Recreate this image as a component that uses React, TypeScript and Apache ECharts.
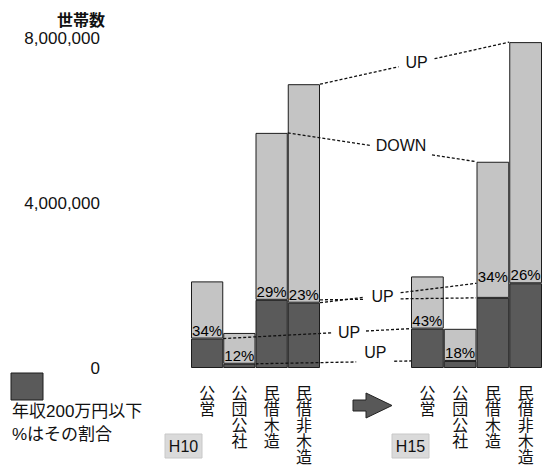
import React, { useEffect, useRef } from "react";
import * as echarts from "echarts";

// Households by tenure type, two survey years
const categories = ["公営", "公団公社", "民借木造", "民借非木造"];
const periods = ["H10", "H15"];
const householdsH10 = [2100000, 850000, 5700000, 6880000];
const householdsH15 = [2220000, 950000, 5000000, 7900000];
// share (%) of households with annual income of 2 million yen or less
const lowIncomePctH10 = [34, 12, 29, 23];
const lowIncomePctH15 = [43, 18, 34, 26];
const yTicks = [0, 4000000, 8000000];

const LIGHT = "#c4c4c4";
const DARK = "#5a5a5a";
const EDGE = "#1c1c1c";
const LATIN = "'Liberation Sans', Arial, sans-serif";
const CJK = "'Liberation Sans', 'Noto Sans CJK JP', sans-serif";

type Part = "total" | "low";
type Anchor = { g: number; edgeCat: number; side: -1 | 1; valueCat: number; part: Part };
type Connector = { lines: [Anchor, Anchor][]; text: string; t: number; dy: number; halfGap: number };

// change arrows between the two survey years
const connectors: Connector[] = [
  {
    lines: [[{ g: 0, edgeCat: 3, side: 1, valueCat: 3, part: "total" }, { g: 1, edgeCat: 3, side: -1, valueCat: 3, part: "total" }]],
    text: "UP", t: 0.51, dy: 0, halfGap: 18,
  },
  {
    lines: [[{ g: 0, edgeCat: 2, side: 1, valueCat: 2, part: "total" }, { g: 1, edgeCat: 2, side: -1, valueCat: 2, part: "total" }]],
    text: "DOWN", t: 0.6, dy: -5, halfGap: 31,
  },
  {
    lines: [
      [{ g: 0, edgeCat: 3, side: 1, valueCat: 2, part: "low" }, { g: 1, edgeCat: 2, side: -1, valueCat: 2, part: "low" }],
      [{ g: 0, edgeCat: 3, side: 1, valueCat: 3, part: "low" }, { g: 1, edgeCat: 2, side: -1, valueCat: 3, part: "low" }],
    ],
    text: "UP", t: 0.4, dy: 0, halfGap: 18,
  },
  {
    lines: [[{ g: 0, edgeCat: 0, side: 1, valueCat: 0, part: "low" }, { g: 1, edgeCat: 0, side: -1, valueCat: 0, part: "low" }]],
    text: "UP", t: 0.67, dy: 1, halfGap: 17,
  },
  {
    lines: [[{ g: 0, edgeCat: 1, side: 1, valueCat: 1, part: "low" }, { g: 1, edgeCat: 0, side: -1, valueCat: 1, part: "low" }]],
    text: "UP", t: 0.77, dy: -9, halfGap: 19,
  },
];

const groups = [
  { totals: householdsH10, pct: lowIncomePctH10 },
  { totals: householdsH15, pct: lowIncomePctH15 },
];

const lowOf = (g: number, i: number) => Math.round((groups[g].totals[i] * groups[g].pct[i]) / 100);
const valueOf = (g: number, i: number, part: Part) => (part === "total" ? groups[g].totals[i] : lowOf(g, i));

// label lift for the one label that sits level with its neighbour
const LABEL_NUDGE: Record<string, number> = { "1-2": -13 };

function buildOption(): echarts.EChartsCoreOption {
  const grids = [
    { left: 191, top: 38, width: 129, height: 330 },
    { left: 411, top: 38, width: 131, height: 330 },
  ];
  const series: any[] = [];
  groups.forEach((grp, g) => {
    const low = grp.totals.map((_, i) => lowOf(g, i));
    const rest = grp.totals.map((t, i) => t - low[i]);
    series.push({
      type: "bar",
      name: periods[g] + " low",
      xAxisIndex: g,
      yAxisIndex: g,
      stack: "s" + g,
      barWidth: "100%",
      itemStyle: { color: DARK, borderColor: EDGE, borderWidth: 1 },
      label: {
        show: true,
        position: "top",
        distance: 1,
        fontSize: 15,
        fontFamily: LATIN,
        color: "#000",
        formatter: (p: any) => grp.pct[p.dataIndex] + "%",
      },
      data: low.map((v, i) => ({
        value: v,
        label: { offset: [0, LABEL_NUDGE[`${g}-${i}`] ?? 0] },
      })),
    });
    series.push({
      type: "bar",
      name: periods[g] + " rest",
      xAxisIndex: g,
      yAxisIndex: g,
      stack: "s" + g,
      barWidth: "100%",
      itemStyle: { color: LIGHT, borderColor: EDGE, borderWidth: 1 },
      data: rest,
    });
  });

  return {
    animation: false,
    backgroundColor: "#ffffff",
    title: {
      text: "世帯数",
      left: 52,
      top: 7,
      textStyle: { fontSize: 16, fontWeight: "bold", fontFamily: CJK, color: "#111" },
    },
    grid: grids,
    xAxis: grids.map((_, g) => ({
      type: "category",
      gridIndex: g,
      data: categories,
      axisLine: { show: false },
      axisTick: { show: false },
      axisLabel: {
        interval: 0,
        margin: 17,
        fontSize: 16,
        lineHeight: 16,
        fontFamily: CJK,
        color: "#111",
        formatter: (v: string) => v.split("").join("\n"),
      },
    })),
    yAxis: grids.map((_, g) => ({
      type: "value",
      gridIndex: g,
      min: yTicks[0],
      max: yTicks[yTicks.length - 1],
      interval: yTicks[1] - yTicks[0],
      show: g === 0,
      axisLine: { show: false },
      axisTick: { show: false },
      splitLine: { show: false },
      axisLabel: {
        margin: 91,
        fontSize: 17,
        fontFamily: LATIN,
        color: "#111",
        formatter: (v: number) => v.toLocaleString("en-US"),
      },
    })),
    series,
  };
}

function decorations(): any[] {
  const out: any[] = [];
  // legend swatch
  out.push({
    type: "rect",
    shape: { x: 11, y: 373, width: 32, height: 27 },
    style: { fill: DARK, stroke: EDGE, lineWidth: 1 },
  });
  out.push({
    type: "text",
    x: 12,
    y: 411,
    style: { text: "年収200万円以下", fontSize: 17, fontFamily: CJK, fill: "#111", verticalAlign: "middle" },
  });
  out.push({
    type: "text",
    x: 12,
    y: 434,
    style: { text: "%はその割合", fontSize: 17, fontFamily: CJK, fill: "#111", verticalAlign: "middle" },
  });
  // period tags
  const tags = [
    { text: periods[0], x: 165, y: 434 },
    { text: periods[1], x: 392, y: 434 },
  ];
  tags.forEach((tg) => {
    out.push({
      type: "rect",
      shape: { x: tg.x, y: tg.y, width: 37, height: 24 },
      style: { fill: "#dadada", stroke: "#c8c8c8", lineWidth: 1 },
    });
    out.push({
      type: "text",
      x: tg.x + 18.5,
      y: tg.y + 12.5,
      style: { text: tg.text, fontSize: 16, fontFamily: LATIN, fill: "#111", align: "center", verticalAlign: "middle" },
    });
  });
  // arrow between the periods
  out.push({
    type: "polygon",
    shape: {
      points: [
        [353, 400], [366, 400], [366, 393], [392, 405.5], [366, 418], [366, 411], [353, 411],
      ],
    },
    style: { fill: "#585858", stroke: "#222", lineWidth: 1 },
  });
  return out;
}

function connectorGraphics(chart: echarts.ECharts): any[] {
  const out: any[] = [];
  const px = (g: number, cat: number, v: number) =>
    chart.convertToPixel({ gridIndex: g } as any, [cat, v]) as number[];
  const anchorPx = (a: Anchor) => {
    const half = (px(a.g, 1, 0)[0] - px(a.g, 0, 0)[0]) / 2;
    const cx = px(a.g, a.edgeCat, 0)[0];
    const y = px(a.g, a.valueCat, valueOf(a.g, a.valueCat, a.part))[1];
    return [cx + a.side * half, y];
  };
  const dashStyle = { stroke: "#111", lineWidth: 1.3, lineDash: [3, 2] };
  connectors.forEach((c) => {
    let tx = 0;
    let ty = 0;
    c.lines.forEach(([a, b]) => {
      const p0 = anchorPx(a);
      const p1 = anchorPx(b);
      const dx = p1[0] - p0[0];
      const dyL = p1[1] - p0[1];
      const len = Math.hypot(dx, dyL);
      const ux = dx / len;
      const uy = dyL / len;
      const mx = p0[0] + dx * c.t;
      const my = p0[1] + dyL * c.t;
      const gapScale = 1 / Math.max(Math.abs(ux), 0.2);
      const gx = ux * c.halfGap * gapScale;
      const gy = uy * c.halfGap * gapScale;
      out.push({ type: "line", z: 50, shape: { x1: p0[0], y1: p0[1], x2: mx - gx, y2: my - gy }, style: dashStyle });
      out.push({ type: "line", z: 50, shape: { x1: mx + gx, y1: my + gy, x2: p1[0], y2: p1[1] }, style: dashStyle });
      tx += mx / c.lines.length;
      ty += my / c.lines.length;
    });
    out.push({
      type: "text",
      z: 51,
      x: tx,
      y: ty + c.dy,
      style: { text: c.text, fontSize: 16, fontFamily: LATIN, fill: "#111", align: "center", verticalAlign: "middle" },
    });
  });
  return out;
}

export default function App() {
  const ref = useRef<HTMLDivElement>(null);
  useEffect(() => {
    if (!ref.current) return;
    const chart = echarts.init(ref.current, null, { renderer: "svg" });
    chart.setOption(buildOption());
    chart.setOption({ graphic: [...decorations(), ...connectorGraphics(chart)] });
    return () => chart.dispose();
  }, []);
  return (
    <div
      ref={ref}
      style={{ position: "fixed", left: 0, top: 0, width: 550, height: 470, background: "#fff" }}
    />
  );
}
